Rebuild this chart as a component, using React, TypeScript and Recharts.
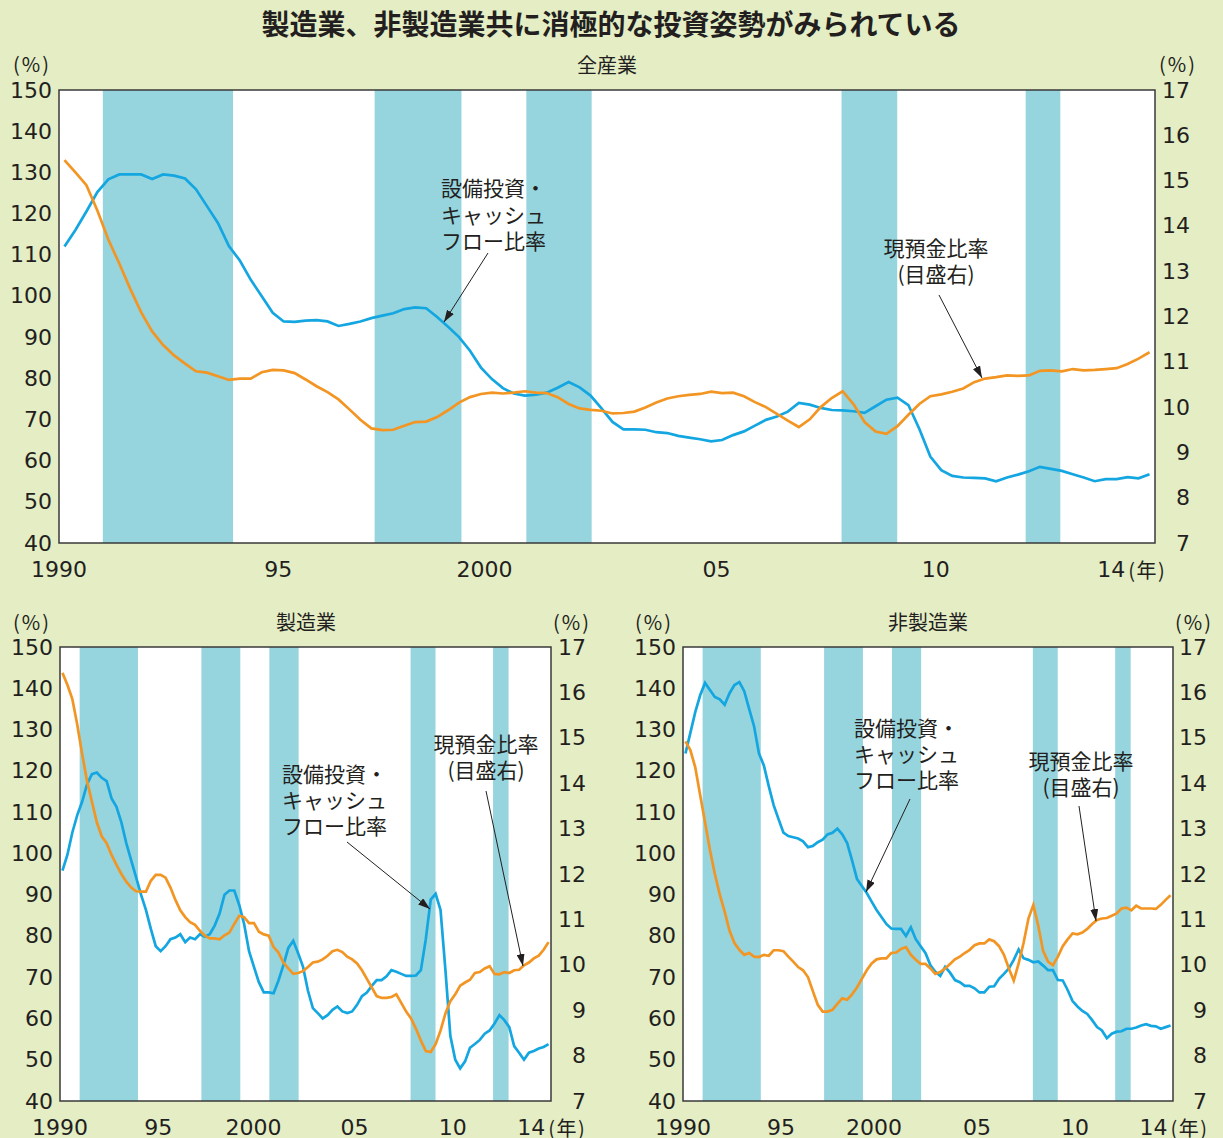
import React from "react";
import { LineChart, Line, XAxis, YAxis, CartesianGrid, ReferenceArea } from "recharts";

const BG = "#e4edc4";
const BAND = "#96d4de";
const BLUE = "#14a6e0";
const ORANGE = "#f39523";
const INK = "#231f20";
const FRAME = "#3a3a3a";
const NUM_FONT = "'DejaVu Sans', sans-serif";
const JP_FONT = "'Noto Sans CJK JP', sans-serif";

const YEARS = [
  1990, 1991, 1992, 1993, 1994, 1995, 1996, 1997, 1998, 1999, 2000, 2001, 2002,
  2003, 2004, 2005, 2006, 2007, 2008, 2009, 2010, 2011, 2012, 2013, 2014,
];
const QUARTER_MID = [0.125, 0.375, 0.625, 0.875];

// shaded periods (recessions)
const RECESSIONS = [
  [1991.0, 1993.97],
  [1997.2, 1999.18],
  [2000.66, 2002.15],
  [2007.85, 2009.12],
  [2012.05, 2012.84],
];

const X_TICKS = [1990, 1995, 2000, 2005, 2010, 2014];
const X_TICK_LABELS = ["1990", "95", "2000", "05", "10", "14"];
const LEFT_TICKS = [40, 50, 60, 70, 80, 90, 100, 110, 120, 130, 140, 150];
const RIGHT_TICKS = [7, 8, 9, 10, 11, 12, 13, 14, 15, 16, 17];

// 全産業
const ALL_CAPEX = [
  112, 116, 120.5, 125.2,
  128.3, 129.5, 129.5, 129.5,
  128.4, 129.5, 129.2, 128.5,
  125.9, 121.8, 117.7, 112.1,
  108.6, 103.9, 99.9, 95.9,
  93.8, 93.7, 94.0, 94.1,
  93.8, 92.7, 93.2, 93.8,
  94.6, 95.2, 95.8, 96.8,
  97.2, 97.0, 94.9, 92.5,
  90.0, 86.7, 82.6, 79.8,
  77.6, 76.3, 75.8, 76.0,
  76.5, 77.7, 79.1, 77.8,
  75.8, 72.7, 69.4, 67.6,
  67.6, 67.5, 66.9, 66.7,
  66.0, 65.6, 65.2, 64.7,
  65.0, 66.2, 67.1, 68.5,
  69.9, 70.7, 71.9, 74.0,
  73.6, 72.8, 72.3, 72.2,
  72.0, 71.6, 73.2, 74.8,
  75.3, 73.5, 67.7, 61.0,
  57.7, 56.3, 55.9, 55.8,
  55.7, 55.0, 55.9, 56.6,
  57.4, 58.5, 58.0, 57.5,
  56.7, 55.9, 55.0, 55.5,
  55.5, 56.0, 55.7, 56.7,
];
const ALL_CASH = [
  15.45, 15.18, 14.9, 14.34,
  13.7, 13.17, 12.61, 12.09,
  11.67, 11.37, 11.14, 10.96,
  10.79, 10.76, 10.68, 10.6,
  10.63, 10.63, 10.77, 10.82,
  10.81, 10.75, 10.61, 10.46,
  10.33, 10.17, 9.95, 9.72,
  9.53, 9.49, 9.5, 9.59,
  9.67, 9.68, 9.78, 9.93,
  10.1, 10.22, 10.29, 10.32,
  10.3, 10.32, 10.35, 10.32,
  10.31, 10.22, 10.07, 9.97,
  9.94, 9.92, 9.86, 9.87,
  9.9, 9.99, 10.1, 10.19,
  10.24, 10.27, 10.29, 10.34,
  10.31, 10.32, 10.24, 10.11,
  10.0, 9.85, 9.7, 9.56,
  9.73, 10.0, 10.2, 10.35,
  10.06, 9.67, 9.46, 9.41,
  9.58, 9.83, 10.07, 10.24,
  10.28, 10.34, 10.41, 10.55,
  10.63, 10.66, 10.7, 10.69,
  10.7, 10.8, 10.81, 10.79,
  10.84, 10.81, 10.82, 10.84,
  10.86, 10.95, 11.07, 11.21,
];

// 製造業
const MFG_CAPEX = [
  95.8, 99.6, 105.0, 109.2,
  112.5, 116.7, 119.2, 119.6,
  118.3, 117.5, 113.3, 111.3,
  107.5, 102.5, 98.3, 94.2,
  90.0, 86.3, 81.7, 77.5,
  76.3, 77.5, 79.2, 79.6,
  80.4, 78.5, 79.6, 79.2,
  80.4, 79.8, 80.4, 82.5,
  85.4, 90.0, 91.0, 91.0,
  87.5, 82.9, 76.3, 72.5,
  68.8, 66.3, 66.3, 66.1,
  69.2, 72.9, 77.1, 78.8,
  75.8, 72.5, 66.7, 62.5,
  61.3, 60.0, 60.8, 62.1,
  62.9, 61.7, 61.3, 61.7,
  63.3, 65.4, 66.3, 67.9,
  69.3, 69.3, 70.2, 71.7,
  71.3, 70.8, 70.3, 70.3,
  70.4, 71.7, 79.2, 88.8,
  90.2, 86.3, 71.7, 55.8,
  50.0, 47.9, 49.6, 52.9,
  53.8, 54.8, 56.3, 57.1,
  58.8, 60.8, 59.6, 57.9,
  53.3, 51.7, 50.0, 51.7,
  52.1, 52.7, 53.1, 53.8,
];
const MFG_CASH = [
  16.43, 16.17, 15.86, 15.3,
  14.65, 14.05, 13.59, 13.14,
  12.83, 12.68, 12.42, 12.2,
  12.0, 11.83, 11.7, 11.62,
  11.61, 11.61, 11.85, 11.98,
  11.98, 11.92, 11.7, 11.43,
  11.2, 11.05, 10.94, 10.88,
  10.75, 10.64, 10.58, 10.58,
  10.56, 10.65, 10.71, 10.9,
  11.08, 11.05, 10.92, 10.92,
  10.73, 10.67, 10.64, 10.39,
  10.27, 10.05, 9.92, 9.8,
  9.82, 9.86, 9.95, 10.05,
  10.07, 10.12, 10.2, 10.3,
  10.33, 10.28, 10.18, 10.12,
  10.03, 9.88, 9.69, 9.5,
  9.31, 9.27, 9.27, 9.29,
  9.35, 9.16, 8.97, 8.82,
  8.59, 8.33, 8.1, 8.08,
  8.25, 8.55, 8.93, 9.2,
  9.35, 9.54, 9.61, 9.67,
  9.82, 9.84, 9.92, 9.97,
  9.8, 9.79, 9.84, 9.82,
  9.88, 9.89, 9.99, 10.05,
  10.14, 10.2, 10.33, 10.5,
];

// 非製造業
const NONMFG_CAPEX = [
  124.2, 129.2, 134.2, 138.3,
  141.3, 139.6, 137.9, 137.3,
  136.0, 138.8, 140.8, 141.5,
  139.3, 135.0, 130.8, 124.2,
  121.3, 116.3, 111.7, 108.3,
  105.0, 104.2, 103.9, 103.6,
  102.9, 101.5, 101.8, 102.7,
  103.3, 104.6, 105.0, 106.0,
  104.6, 102.5, 98.3, 93.8,
  92.1, 90.4, 88.3, 86.3,
  84.6, 82.9, 81.8, 81.7,
  81.7, 80.0, 82.1, 79.2,
  77.5, 75.8, 72.9, 71.3,
  70.3, 72.5, 71.1, 69.3,
  68.8, 67.9, 67.9, 67.3,
  66.3, 66.3, 67.7, 67.8,
  69.6, 70.8, 72.1, 74.2,
  76.7, 74.6, 74.2, 73.6,
  73.8, 72.8, 71.7, 71.7,
  69.3, 69.2, 66.9, 64.2,
  62.9, 61.8, 61.1, 59.6,
  57.9, 57.1, 55.2, 56.3,
  56.8, 56.9, 57.5, 57.5,
  57.8, 58.3, 58.6, 58.2,
  58.1, 57.5, 57.9, 58.3,
];
const NONMFG_CASH = [
  14.92, 14.73, 14.35, 13.74,
  13.14, 12.53, 12.0, 11.55,
  11.17, 10.75, 10.48, 10.33,
  10.22, 10.26, 10.18, 10.17,
  10.22, 10.2, 10.32, 10.32,
  10.3, 10.18, 10.07, 9.95,
  9.88, 9.73, 9.42, 9.12,
  8.97, 8.97, 9.01, 9.14,
  9.26, 9.23, 9.35, 9.5,
  9.69, 9.88, 10.03, 10.12,
  10.14, 10.14, 10.26, 10.27,
  10.35, 10.39, 10.22, 10.11,
  10.02, 10.02, 9.92, 9.8,
  9.84, 9.92, 10.02, 10.12,
  10.18, 10.26, 10.33, 10.43,
  10.47, 10.47, 10.56, 10.52,
  10.41, 10.22, 9.92, 9.65,
  10.03, 10.48, 11.02, 11.32,
  10.86, 10.3, 10.07, 9.99,
  10.18, 10.41, 10.56, 10.69,
  10.67, 10.71, 10.79, 10.9,
  10.99, 11.02, 11.03, 11.08,
  11.13, 11.24, 11.26, 11.2,
  11.3, 11.24, 11.24, 11.24,
  11.23, 11.32, 11.43, 11.53,
];

function makeData(capex: number[], cash: number[]) {
  const rows: { t: number; capex?: number; cash?: number }[] = [];
  YEARS.forEach((y, yi) => {
    QUARTER_MID.forEach((q, qi) => {
      const i = yi * 4 + qi;
      rows.push({ t: y + q, capex: capex[i], cash: cash[i] });
    });
  });
  return rows;
}

const tickText = { fontSize: 22, fontFamily: NUM_FONT, fill: INK };

function makeXTick(shift2000: number) {
  return (p: any) => {
    const v = p.payload.value;
    const i = X_TICKS.indexOf(v);
    const dx = v === 2000 ? shift2000 : 0;
    return (
      <g>
        <text x={p.x + dx} y={p.y + 26} textAnchor="middle" dominantBaseline="central" {...tickText}>
          {X_TICK_LABELS[i]}
        </text>
        {v === 2014 && (
          <text x={p.x + 17} y={p.y + 26} textAnchor="start" dominantBaseline="central"
            fontSize={20} fontFamily={JP_FONT} fill={INK} letterSpacing={1.5}>
            (年)
          </text>
        )}
      </g>
    );
  };
}

function LeftTick(p: any) {
  return (
    <text x={p.x - 7} y={p.y} textAnchor="end" dominantBaseline="central" {...tickText}>
      {p.payload.value}
    </text>
  );
}

function makeRightTick(dx: number) {
  return (p: any) => (
    <text x={p.x + dx} y={p.y} textAnchor="end" dominantBaseline="central" {...tickText}>
      {p.payload.value}
    </text>
  );
}

function Panel(props: {
  left: number; top: number; width: number; height: number;
  leftW: number; rightW: number; plotTop: number; axisH: number; rightDx: number;
  shift2000: number; capex: number[]; cash: number[];
}) {
  const data = makeData(props.capex, props.cash);
  return (
    <div style={{ position: "absolute", left: props.left, top: props.top }}>
      <LineChart width={props.width} height={props.height} data={data}
        margin={{ top: props.plotTop, right: 0, bottom: 0, left: 0 }}>
        <CartesianGrid fill="#ffffff" stroke="none" horizontal={false} vertical={false} />
        <XAxis dataKey="t" type="number" domain={[1990, 2015]} ticks={X_TICKS} interval={0}
          tickLine={false} axisLine={false} tickSize={0} tickMargin={0} height={props.axisH}
          tick={makeXTick(props.shift2000)} allowDataOverflow />
        <YAxis domain={[40, 150]} ticks={LEFT_TICKS} interval={0} width={props.leftW}
          tickLine={false} axisLine={false} tickSize={0} tickMargin={0} tick={LeftTick} />
        <YAxis yAxisId="R" orientation="right" domain={[7, 17]} ticks={RIGHT_TICKS} interval={0}
          width={props.rightW} tickLine={false} axisLine={false} tickSize={0} tickMargin={0}
          tick={makeRightTick(props.rightDx)} />
        {RECESSIONS.map((r, i) => (
          <ReferenceArea key={i} x1={r[0]} x2={r[1]} y1={40} y2={150}
            fill={BAND} fillOpacity={1} stroke="none" />
        ))}
        <ReferenceArea x1={1990} x2={2015} y1={40} y2={150} fill="none"
          stroke={FRAME} strokeWidth={1.5} />
        <Line dataKey="capex" type="linear" stroke={BLUE} strokeWidth={2.7} dot={false}
          isAnimationActive={false} />
        <Line yAxisId="R" dataKey="cash" type="linear" stroke={ORANGE} strokeWidth={2.7}
          dot={false} isAnimationActive={false} />
      </LineChart>
    </div>
  );
}

// multi-line annotation as one text element
function Note(props: { x: number; y: number; lines: string[]; anchor?: string; gap: number }) {
  return (
    <text x={props.x} y={props.y} textAnchor={props.anchor || "start"}
      dominantBaseline="central" fontSize={21} fontFamily={JP_FONT} fill={INK}>
      {props.lines.map((s, i) => (
        <tspan key={i} x={props.x} dy={i === 0 ? 0 : props.gap}>{s}</tspan>
      ))}
    </text>
  );
}

function Arrow(props: { x1: number; y1: number; x2: number; y2: number }) {
  return (
    <line x1={props.x1} y1={props.y1} x2={props.x2} y2={props.y2}
      stroke={INK} strokeWidth={1} markerEnd="url(#ah)" />
  );
}

const CAPEX_LABEL = ["設備投資・", "キャッシュ", "フロー比率"];
const CASH_LABEL = ["現預金比率", "(目盛右)"];

function pct(x: number, y: number) {
  return (
    <text x={x} y={y} textAnchor="end" dominantBaseline="central" fontSize={20}
      fontFamily={JP_FONT} fill={INK} letterSpacing={2}>
      (%)
    </text>
  );
}

function sub(x: number, y: number, s: string) {
  return (
    <text x={x} y={y} textAnchor="middle" dominantBaseline="central" fontSize={20}
      fontFamily={JP_FONT} fill={INK}>
      {s}
    </text>
  );
}

export default function App() {
  return (
    <div style={{ position: "absolute", left: 0, top: 0, width: 1223, height: 1138,
      background: BG, overflow: "hidden" }}>
      <Panel left={0} top={0} width={1223} height={600} leftW={59} rightW={68}
        plotTop={90} axisH={57} rightDx={35} shift2000={-13} capex={ALL_CAPEX} cash={ALL_CASH} />
      <Panel left={0} top={600} width={610} height={538} leftW={60} rightW={59}
        plotTop={47} axisH={37} rightDx={35} shift2000={-3} capex={MFG_CAPEX} cash={MFG_CASH} />
      <Panel left={610} top={600} width={613} height={538} leftW={73} rightW={50}
        plotTop={47} axisH={37} rightDx={34} shift2000={-5} capex={NONMFG_CAPEX} cash={NONMFG_CASH} />

      <svg width={1223} height={1138}
        style={{ position: "absolute", left: 0, top: 0, pointerEvents: "none" }}>
        <defs>
          <marker id="ah" viewBox="0 0 12 8" refX={12} refY={4} markerWidth={12}
            markerHeight={8} orient="auto" markerUnits="userSpaceOnUse">
            <path d="M0,0 L12,4 L0,8 z" fill={INK} />
          </marker>
        </defs>
        <text x={611} y={23} textAnchor="middle" dominantBaseline="central" fontSize={28}
          fontWeight={700} fontFamily={JP_FONT} fill={INK}>
          製造業、非製造業共に消極的な投資姿勢がみられている
        </text>

        {sub(607, 64, "全産業")}
        {sub(306, 621, "製造業")}
        {sub(928, 621, "非製造業")}

        {pct(51, 63)}
        {pct(1197, 63)}
        {pct(51, 621)}
        {pct(591, 621)}
        {pct(673, 621)}
        {pct(1213, 621)}

        <Note x={441} y={187} gap={26.5} lines={CAPEX_LABEL} />
        <Arrow x1={488} y1={253} x2={444} y2={322} />
        <Note x={936} y={247} gap={26} lines={CASH_LABEL} anchor="middle" />
        <Arrow x1={939} y1={295} x2={982} y2={378} />

        <Note x={282} y={773} gap={26} lines={CAPEX_LABEL} />
        <Arrow x1={347} y1={842} x2={430} y2={909} />
        <Note x={486} y={743} gap={26} lines={CASH_LABEL} anchor="middle" />
        <Arrow x1={486} y1={791} x2={523} y2={966} />

        <Note x={854} y={727} gap={26} lines={CAPEX_LABEL} />
        <Arrow x1={910} y1={799} x2={866} y2={892} />
        <Note x={1081} y={760} gap={26} lines={CASH_LABEL} anchor="middle" />
        <Arrow x1={1079} y1={806} x2={1096} y2={921} />
      </svg>
    </div>
  );
}
